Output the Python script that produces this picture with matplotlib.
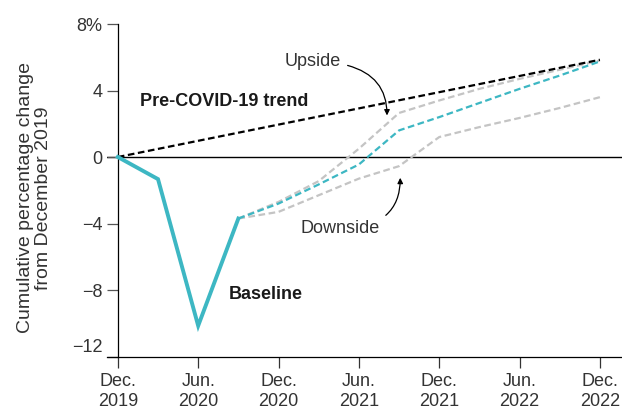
import matplotlib.pyplot as plt
from matplotlib.transforms import ScaledTranslation

plt.rcParams['font.family'] = ['Liberation Sans', 'DejaVu Sans']

# quarters since Dec. 2019 (0 = Dec. 2019, 12 = Dec. 2022)
actual_q = [0, 1, 2, 3]
actual_val = [0, -1.33, -10.15, -3.7]

proj_q = [3, 4, 5, 6, 7, 8, 9, 10, 11, 12]
baseline_val = [-3.7, -2.8, -1.65, -0.45, 1.6, 2.4, 3.25, 4.1, 4.9, 5.75]
upside_val = [-3.7, -2.7, -1.45, 0.5, 2.65, 3.4, 4.1, 4.7, 5.25, 5.8]
downside_val = [-3.7, -3.3, -2.3, -1.3, -0.55, 1.2, 1.8, 2.35, 2.95, 3.6]

trend_q = [0, 12]
trend_val = [0, 5.85]

tick_q = [0, 2, 4, 6, 8, 10, 12]
tick_labels = ['Dec.\n2019', 'Jun.\n2020', 'Dec.\n2020', 'Jun.\n2021',
               'Dec.\n2021', 'Jun.\n2022', 'Dec.\n2022']
ytick_vals = [8, 4, 0, -4, -8, -12]
ytick_labels = ['8%', '4', '0', '\u22124', '\u22128', '\u221212']

teal = '#3db7c3'
grey = '#c4c4c4'

fig = plt.figure(figsize=(6.22, 4.12), dpi=100)
ax = fig.add_axes([0.172, 0.1347, 0.828, 0.807])

ax.axhline(0, color='black', lw=1, zorder=1)
ax.plot(trend_q, trend_val, color='black', lw=1.6, ls=(0, (3, 1.6)), zorder=3)
ax.plot(proj_q, upside_val, color=grey, lw=1.6, ls=(0, (3, 1.6)), zorder=2)
ax.plot(proj_q, downside_val, color=grey, lw=1.6, ls=(0, (3, 1.6)), zorder=2)
ax.plot(proj_q, baseline_val, color=teal, lw=1.6, ls=(0, (3, 1.6)), zorder=4)
ax.plot(actual_q, actual_val, color=teal, lw=2.8, solid_joinstyle='miter', zorder=5)

ax.set_xlim(-0.27, 12.55)
ax.set_ylim(-12, 8)
ax.spines['left'].set_position(('data', 0))
ax.spines['top'].set_visible(False)
ax.spines['right'].set_visible(False)
ax.spines['left'].set_linewidth(0.9)
ax.spines['bottom'].set_linewidth(0.9)

ax.set_xticks(tick_q)
ax.set_xticklabels(tick_labels, fontsize=13, color='#333333', linespacing=1.25)
ax.set_yticks(ytick_vals)
ax.set_yticklabels(ytick_labels, fontsize=13, color='#333333')
ax.tick_params(axis='y', length=8, width=0.9, color='#555555', pad=3)
ax.tick_params(axis='x', length=8, width=0.9, color='#333333', pad=4)

# the bottom label sits a little above the axis line
lab = ax.get_yticklabels()[-1]
lab.set_transform(lab.get_transform() + ScaledTranslation(0, 8 / 72, fig.dpi_scale_trans))

fig.text(0.056, 0.52, 'Cumulative percentage change\nfrom December 2019',
         rotation=90, ha='center', va='center', fontsize=14, color='#333333',
         linespacing=1.1)

ax.text(0.55, 3.35, 'Pre-COVID-19 trend', fontsize=13, fontweight='bold',
        color='#1a1a1a', va='center')
ax.text(2.75, -8.3, 'Baseline', fontsize=13, fontweight='bold',
        color='#1a1a1a', va='center')

ax.annotate('Upside', xy=(6.7, 2.5), xytext=(5.55, 5.75),
            fontsize=13, color='#333333', ha='right', va='center',
            arrowprops=dict(arrowstyle='-|>', color='black', lw=0.9,
                            mutation_scale=8, shrinkA=3, shrinkB=0,
                            connectionstyle='angle3,angleA=0,angleB=90'))
ax.annotate('Downside', xy=(7.03, -1.25), xytext=(6.52, -4.3),
            fontsize=13, color='#333333', ha='right', va='center',
            arrowprops=dict(arrowstyle='-|>', color='black', lw=0.9,
                            mutation_scale=8, shrinkA=3, shrinkB=0,
                            connectionstyle='angle3,angleA=0,angleB=90'))

fig.savefig('out.png', dpi=100)
